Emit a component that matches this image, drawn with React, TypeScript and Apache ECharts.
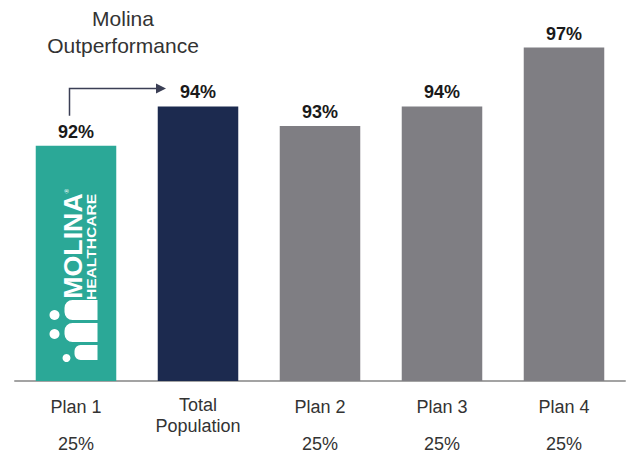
import React, { useEffect, useRef } from 'react';
import * as echarts from 'echarts';

const categories = ['Plan 1', 'Total\nPopulation', 'Plan 2', 'Plan 3', 'Plan 4'];
const values = [92, 94, 93, 94, 97];
const shares = ['25%', '', '25%', '25%', '25%'];
const barColors = ['#2ba897', '#1c2a4f', '#7f7e83', '#7f7e83', '#7f7e83'];
const titleLines = ['Molina', 'Outperformance'];

const FONT = "'Liberation Sans', Arial, sans-serif";

export default function App() {
  const ref = useRef<HTMLDivElement>(null);
  useEffect(() => {
    document.body.style.margin = '0';
    const chart = echarts.init(ref.current!, null, { renderer: 'svg' });
    chart.setOption({
      animation: false,
      grid: { left: 15, right: 9, top: 28, bottom: 80 },
      xAxis: [
        {
          type: 'category',
          data: categories,
          axisLine: { lineStyle: { color: '#a3a3a3', width: 2 } },
          axisTick: { show: false },
          axisLabel: {
            interval: 0,
            margin: 13,
            fontSize: 18,
            lineHeight: 21,
            color: '#333333',
            fontFamily: FONT,
            formatter: (v: string) => (v.indexOf('\n') >= 0 ? v : `{p|${v}}`),
            rich: {
              p: { fontSize: 18, lineHeight: 21, padding: [4, 0, 0, 0], color: '#333333', fontFamily: FONT },
            },
          },
        },
        {
          type: 'category',
          data: shares,
          position: 'bottom',
          axisLine: { show: false },
          axisTick: { show: false },
          axisLabel: {
            interval: 0,
            margin: 52,
            fontSize: 18,
            lineHeight: 21,
            color: '#333333',
            fontFamily: FONT,
          },
        },
      ],
      yAxis: { type: 'value', min: 80, max: 98, show: false, splitLine: { show: false } },
      series: [
        {
          type: 'bar',
          xAxisIndex: 0,
          barWidth: '66%',
          data: values.map((v, i) => ({ value: v, itemStyle: { color: barColors[i] } })),
          label: {
            show: true,
            position: 'top',
            distance: 5,
            formatter: '{c}%',
            fontSize: 18,
            fontWeight: 'bold',
            color: '#1a1a1a',
            fontFamily: FONT,
          },
        },
      ],
    });

    const toPx = (i: number, v: number) =>
      chart.convertToPixel({ xAxisIndex: 0, yAxisIndex: 0 }, [i, v]) as number[];
    const p0 = toPx(0, values[0]);
    const p1 = toPx(1, values[1]);
    const base = toPx(0, 80);

    const ax = p0[0] - 6.5;
    const ay0 = p0[1] - 30;
    const ayH = p1[1] - 18;
    const tip = p1[0] - 32;

    const white = '#ffffff';
    const Z = 50;
    const rotText = (text: string, x: number, y: number, font: string, scaleX: number) => ({
      type: 'text',
      x,
      y,
      z: Z,
      rotation: Math.PI / 2,
      scaleX,
      style: { text, font, fill: white, align: 'center', textAlign: 'center', verticalAlign: 'middle', textVerticalAlign: 'middle' },
    });
    chart.setOption({
      graphic: [
        {
          type: 'text',
          x: 123,
          y: 18,
          z: Z,
          style: {
            text: titleLines[0],
            font: `21px ${FONT}`,
            fill: '#333333',
            align: 'center',
            textAlign: 'center',
            verticalAlign: 'middle',
            textVerticalAlign: 'middle',
          },
        },
        {
          type: 'text',
          x: 123,
          y: 45,
          z: Z,
          style: {
            text: titleLines[1],
            font: `21px ${FONT}`,
            fill: '#333333',
            align: 'center',
            textAlign: 'center',
            verticalAlign: 'middle',
            textVerticalAlign: 'middle',
          },
        },
        {
          type: 'polyline',
          z: Z,
          shape: { points: [[ax, ay0], [ax, ayH], [tip - 8, ayH]] },
          style: { stroke: '#3b3f55', lineWidth: 1.5, fill: 'none' },
        },
        {
          type: 'polygon',
          z: Z,
          shape: { points: [[tip, ayH], [tip - 10, ayH - 5], [tip - 10, ayH + 5]] },
          style: { fill: '#3b3f55' },
        },
        {
          type: 'group',
          x: p0[0],
          y: base[1],
          z: Z,
          children: [
            rotText('MOLINA', -2.5, -135, `bold 25px ${FONT}`, 1.07),
            rotText('HEALTHCARE', 15.5, -134, `bold 12px ${FONT}`, 1.3),
            rotText('®', -9.5, -190, `6px ${FONT}`, 1),
            { type: 'circle', z: Z, shape: { cx: -21.5, cy: -66, r: 5 }, style: { fill: white } },
            { type: 'circle', z: Z, shape: { cx: -21.5, cy: -47, r: 5 }, style: { fill: white } },
            { type: 'circle', z: Z, shape: { cx: -9.5, cy: -23, r: 4 }, style: { fill: white } },
            { type: 'rect', z: Z, shape: { x: -11.5, y: -81, width: 33, height: 20, r: [8, 0, 0, 8] }, style: { fill: white } },
            { type: 'rect', z: Z, shape: { x: -11.5, y: -58, width: 33, height: 19, r: [8, 0, 0, 8] }, style: { fill: white } },
            { type: 'rect', z: Z, shape: { x: -1.5, y: -36, width: 23, height: 15, r: [6, 0, 0, 6] }, style: { fill: white } },
          ],
        },
      ],
    });

    return () => chart.dispose();
  }, []);
  return <div ref={ref} style={{ width: 634, height: 461 }} />;
}
